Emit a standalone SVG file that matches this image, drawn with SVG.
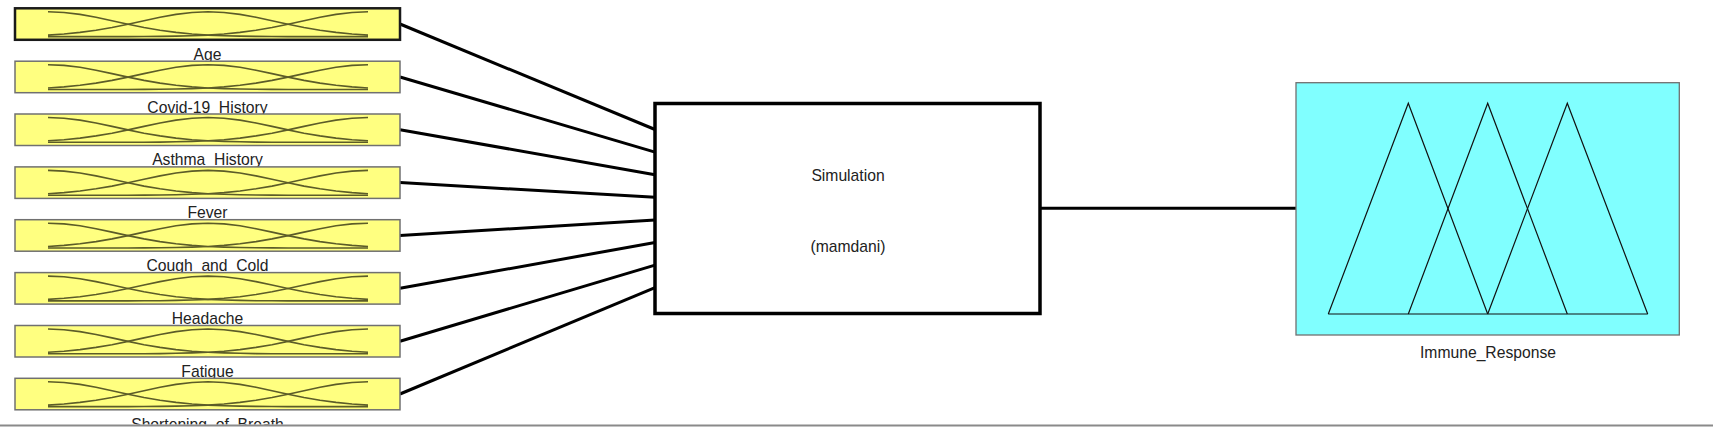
<svg xmlns="http://www.w3.org/2000/svg" xmlns:xlink="http://www.w3.org/1999/xlink" width="1713" height="429" viewBox="0 0 1713 429">
  <style>
    .lbl { font-family: "Liberation Sans", Arial, Helvetica, sans-serif; font-size: 15.7px; fill: #222; text-anchor: middle; }
    .inbox { fill: #FFFF80; stroke: #707070; stroke-width: 1.5; }
    .inbox.sel { stroke: #1a1a1a; stroke-width: 2.5; }
    .mfc { fill: none; stroke: #5c5c28; stroke-width: 1.6; stroke-linejoin: round; }
    .conn { stroke: #000; stroke-width: 3; fill: none; }
    .tri { fill: none; stroke: #111; stroke-width: 1.2; stroke-linejoin: miter; }
  </style>
  <defs>
    <g id="mf">
      <polyline class="mfc" points="33,3.5 49,4.2 65,6.1 81,9 97,12.4 113,15.9 129,19.2 145,21.9 161,24.1 177,25.7 193,26.8 209,27.4 225,27.8 241,28.1 257,28.2 273,28.3 353,28.3"/>
      <polyline class="mfc" points="33,26.8 49,25.7 65,24.1 81,21.9 97,19.2 113,15.9 129,12.4 145,9 161,6.1 177,4.2 193,3.5 209,4.2 225,6.1 241,9 257,12.4 273,15.9 289,19.2 305,21.9 321,24.1 337,25.7 353,26.8"/>
      <polyline class="mfc" points="33,28.3 113,28.3 129,28.2 145,28.1 161,27.8 177,27.4 193,26.8 209,25.7 225,24.1 241,21.9 257,19.2 273,15.9 289,12.4 305,9 321,6.1 337,4.2 353,3.5"/>
    </g>
  </defs>
  <rect x="0" y="0" width="1713" height="429" fill="#fff"/>

  <g id="connectors">
    <line class="conn" x1="400" y1="24" x2="655" y2="129.5"/>
    <line class="conn" x1="400" y1="77" x2="655" y2="152.1"/>
    <line class="conn" x1="400" y1="129.7" x2="655" y2="174.7"/>
    <line class="conn" x1="400" y1="182.6" x2="655" y2="197.3"/>
    <line class="conn" x1="400" y1="235.5" x2="655" y2="219.9"/>
    <line class="conn" x1="400" y1="288.3" x2="655" y2="242.5"/>
    <line class="conn" x1="400" y1="341.2" x2="655" y2="265.1"/>
    <line class="conn" x1="400" y1="394" x2="655" y2="287.7"/>
    <line class="conn" x1="1040" y1="208.3" x2="1296" y2="208.3"/>
  </g>

  <g id="in-age" transform="translate(15,8.3)">
    <rect class="inbox sel" x="0" y="0" width="385" height="31.5"/>
    <use href="#mf" xlink:href="#mf"/>
    <text class="lbl" x="192.5" y="51.4">Age</text>
  </g>
  <g id="in-covid" transform="translate(15,61.2)">
    <rect class="inbox" x="0" y="0" width="385" height="31.5"/>
    <use href="#mf" xlink:href="#mf"/>
    <text class="lbl" x="192.5" y="51.4">Covid-19_History</text>
  </g>
  <g id="in-asthma" transform="translate(15,114)">
    <rect class="inbox" x="0" y="0" width="385" height="31.5"/>
    <use href="#mf" xlink:href="#mf"/>
    <text class="lbl" x="192.5" y="51.4">Asthma_History</text>
  </g>
  <g id="in-fever" transform="translate(15,166.9)">
    <rect class="inbox" x="0" y="0" width="385" height="31.5"/>
    <use href="#mf" xlink:href="#mf"/>
    <text class="lbl" x="192.5" y="51.4">Fever</text>
  </g>
  <g id="in-cough" transform="translate(15,219.7)">
    <rect class="inbox" x="0" y="0" width="385" height="31.5"/>
    <use href="#mf" xlink:href="#mf"/>
    <text class="lbl" x="192.5" y="51.4">Cough_and_Cold</text>
  </g>
  <g id="in-headache" transform="translate(15,272.6)">
    <rect class="inbox" x="0" y="0" width="385" height="31.5"/>
    <use href="#mf" xlink:href="#mf"/>
    <text class="lbl" x="192.5" y="51.4">Headache</text>
  </g>
  <g id="in-fatigue" transform="translate(15,325.5)">
    <rect class="inbox" x="0" y="0" width="385" height="31.5"/>
    <use href="#mf" xlink:href="#mf"/>
    <text class="lbl" x="192.5" y="51.4">Fatigue</text>
  </g>
  <g id="in-breath" transform="translate(15,378.3)">
    <rect class="inbox" x="0" y="0" width="385" height="31.5"/>
    <use href="#mf" xlink:href="#mf"/>
    <text class="lbl" x="192.5" y="51.4">Shortening_of_Breath</text>
  </g>

  <g id="system">
    <rect x="655" y="103.5" width="385" height="210" fill="#fff" stroke="#000" stroke-width="3.5"/>
    <text class="lbl" x="848" y="180.7">Simulation</text>
    <text class="lbl" x="848" y="251.5">(mamdani)</text>
  </g>

  <g id="out-immune">
    <rect x="1296" y="82.7" width="383.3" height="252.3" fill="#80FFFF" stroke="#707070" stroke-width="1.3"/>
    <polyline class="tri" points="1328.3,314 1408.3,103.3 1487.7,314"/>
    <polyline class="tri" points="1408.3,314 1487.7,103.3 1567.3,314"/>
    <polyline class="tri" points="1487.7,314 1567.3,103.3 1647.7,314"/>
    <line class="tri" x1="1328.3" y1="314" x2="1647.7" y2="314"/>
    <text class="lbl" x="1488" y="358">Immune_Response</text>
  </g>

  <rect x="0" y="424.5" width="1713" height="4.5" fill="#fff"/>
  <line x1="0" y1="425.5" x2="1713" y2="425.5" stroke="#8a8a8a" stroke-width="2"/>
</svg>
